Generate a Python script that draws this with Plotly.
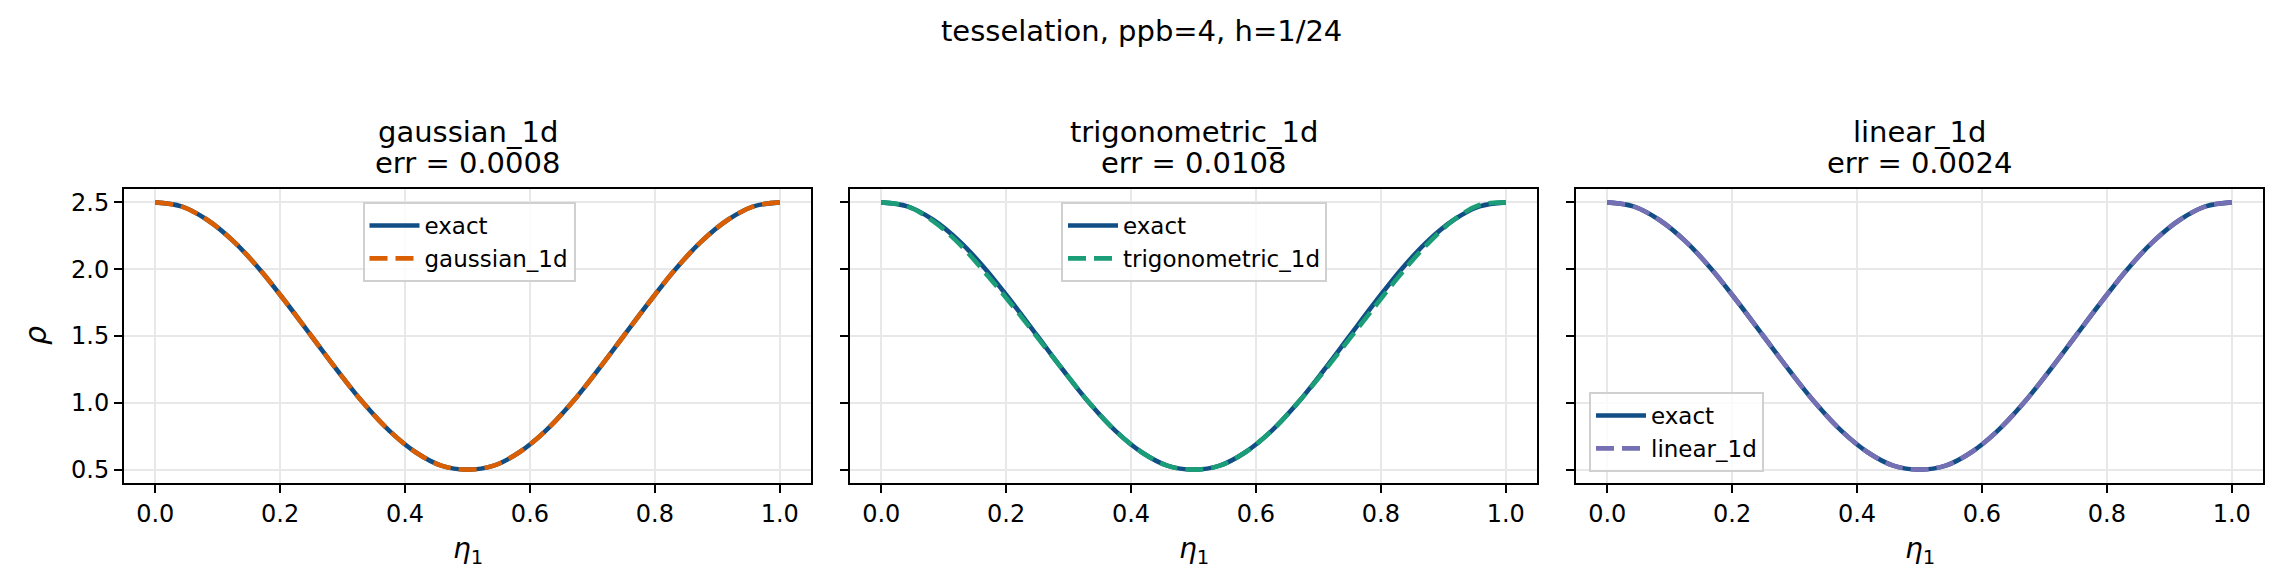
import plotly.graph_objects as go

# ------------------------
# Data
# ------------------------
eta = [0.0, 0.042, 0.083, 0.125, 0.167, 0.208, 0.25, 0.292, 0.333, 0.375, 0.417, 0.458, 0.5,
       0.542, 0.583, 0.625, 0.667, 0.708, 0.75, 0.792, 0.833, 0.875, 0.917, 0.958, 1.0]

rho_exact = [2.50, 2.47, 2.37, 2.21, 2.00, 1.76, 1.50, 1.24, 1.00, 0.79, 0.63, 0.53, 0.50,
             0.53, 0.63, 0.79, 1.00, 1.24, 1.50, 1.76, 2.00, 2.21, 2.37, 2.47, 2.50]
rho_gaussian = [2.50, 2.47, 2.37, 2.21, 2.00, 1.76, 1.50, 1.24, 1.00, 0.79, 0.63, 0.53, 0.50,
                0.53, 0.63, 0.79, 1.00, 1.24, 1.50, 1.76, 2.00, 2.21, 2.37, 2.47, 2.50]
rho_trig = [2.50, 2.47, 2.36, 2.19, 1.97, 1.74, 1.49, 1.24, 1.00, 0.79, 0.63, 0.53, 0.50,
            0.53, 0.63, 0.79, 1.00, 1.23, 1.48, 1.73, 1.97, 2.19, 2.37, 2.48, 2.50]
rho_linear = [2.50, 2.47, 2.37, 2.21, 2.00, 1.76, 1.50, 1.24, 1.00, 0.79, 0.63, 0.53, 0.50,
              0.53, 0.63, 0.79, 1.00, 1.24, 1.50, 1.76, 2.00, 2.21, 2.37, 2.47, 2.50]

methods = ["gaussian_1d", "trigonometric_1d", "linear_1d"]
errors = ["0.0008", "0.0108", "0.0024"]
approx = [rho_gaussian, rho_trig, rho_linear]
colors = ["#d95f02", "#1b9e77", "#7570b3"]
exact_color = "#124e86"

W, H = 2282, 587
OFF = 8  # the page body margin shifts the figure by this much
FONT = "DejaVu Sans"


def px_x(v):
    return (v - OFF) / W


def px_y(v):
    return (H - (v - OFF)) / H


# panel boxes in pixels (left, right), shared top/bottom
panels_px = [(124, 811), (850, 1537), (1576, 2263)]
top_px, bot_px = 189, 483
legend_pos = [
    dict(x=px_x(469), y=px_y(202), xanchor="center", yanchor="top"),
    dict(x=px_x(1194), y=px_y(202), xanchor="center", yanchor="top"),
    dict(x=px_x(1589), y=px_y(472), xanchor="left", yanchor="bottom"),
]


def label(text, x, y, size=29, angle=0):
    return dict(text=text, x=x, y=y, xref="paper", yref="paper", showarrow=False,
                xanchor="center", yanchor="middle", textangle=angle,
                font=dict(family=FONT, size=size, color="black"))


fig = go.Figure()
annotations = []

for i, name in enumerate(methods):
    n = "" if i == 0 else str(i + 1)
    leg = "legend" + n
    fig.add_trace(go.Scatter(
        x=eta, y=rho_exact, mode="lines", name="exact",
        line=dict(color=exact_color, width=4.6, shape="spline"),
        xaxis="x" + n, yaxis="y" + n, legend=leg
    ))
    fig.add_trace(go.Scatter(
        x=eta, y=approx[i], mode="lines", name=name,
        line=dict(color=colors[i], width=4.6, dash="18px,8px", shape="spline"),
        xaxis="x" + n, yaxis="y" + n, legend=leg
    ))

    l, r = panels_px[i]
    axis_common = dict(
        showline=True, mirror=True, linecolor="black", linewidth=1.9,
        ticks="outside", ticklen=8, tickwidth=1.9, tickcolor="black",
        showgrid=True, gridcolor="#e8e8e8", gridwidth=1.5, zeroline=False,
        tickfont=dict(family=FONT, size=24, color="black"),
    )
    fig.update_layout({
        "xaxis" + n: dict(axis_common, domain=[px_x(l), px_x(r)], range=[-0.05, 1.05],
                          dtick=0.2, tick0=0, tickformat=".1f",
                          anchor="y" + n),
        "yaxis" + n: dict(axis_common, domain=[px_y(bot_px), px_y(top_px)],
                          range=[0.4, 2.6], dtick=0.5, tick0=0.5, tickformat=".1f",
                          showticklabels=(i == 0), anchor="x" + n),
        leg: dict(legend_pos[i], bgcolor="rgba(255,255,255,0.8)", bordercolor="#d0d0d0",
                  borderwidth=2, font=dict(family=FONT, size=23, color="black"),
                  itemwidth=50, tracegroupgap=0),
    })

    cx = px_x((l + r) / 2)
    annotations += [
        label(name, cx, px_y(132)),
        label("err = " + errors[i], cx, px_y(163)),
        label("<i>η</i><sub>1</sub>", cx, px_y(550), size=28),
    ]

annotations += [
    label("tesselation, ppb=4, h=1/24", px_x(W / 2), px_y(31)),
    label("<i>ρ</i>", px_x(35), px_y(336), size=30, angle=-90),
]

fig.update_layout(
    width=W, height=H,
    margin=dict(l=0, r=0, t=0, b=0),
    paper_bgcolor="white", plot_bgcolor="white",
    annotations=annotations,
    showlegend=True,
)

fig.write_html("out.html")
